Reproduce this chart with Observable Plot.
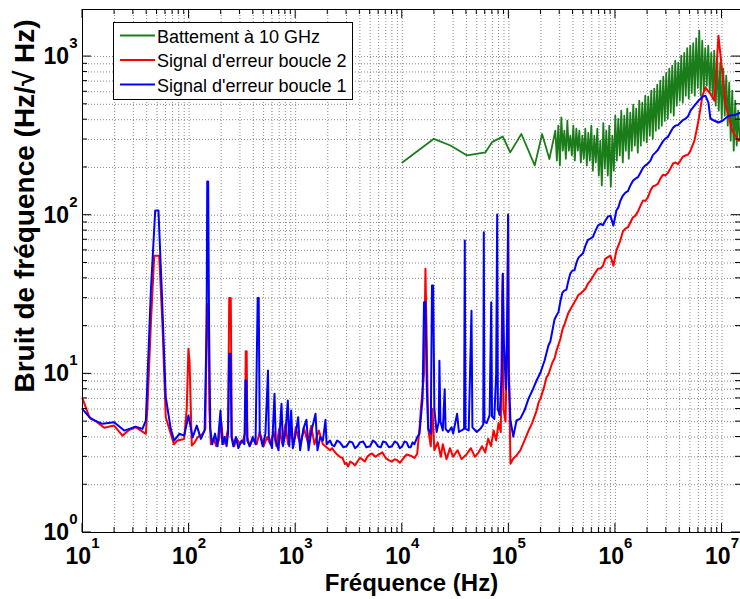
<!DOCTYPE html>
<html><head><meta charset="utf-8">
<script src="https://cdn.jsdelivr.net/npm/d3@7"></script>
<script src="https://cdn.jsdelivr.net/npm/@observablehq/plot@0.6"></script>
<style>body{margin:0;background:#fff;} #chart{width:740px;height:599px;}</style>
</head><body><div id="chart"></div>
<script>
// ---------- data (frequency in Hz, noise in Hz/sqrt(Hz)) ----------
const seriesNames = ["Battement à 10 GHz", "Signal d'erreur boucle 2", "Signal d'erreur boucle 1"];
const seriesColors = ["#1a7d1a", "#ff0000", "#0000ff"];

const greenFreq = [10000,19800,28300,40600,60300,70000,87700,103000,131000,175000,205000,240000,
 273000,282000,291300,300900,310800,321000,331600,342500,353700,365400,377400,389800,402600,415900,429500,443700,
 458300,473300,488900,505000,521600,538800,556500,574800,593700,613300,633400,654300,675800,698000,721000,744700,
 769200,794500,820700,847700,875600,904400,934200,964900,996700,1029500,1063300,1098300,1134500,1171800,1210400,1250200,
 1291400,1333900,1377700,1423100,1469900,1518300,1568300,1619900,1673200,1728300,1785200,1843900,1904600,1967300,
 2032100,2099000,2168100,2239400,2313100,2389300,2467900,2549100,2633000,2719700,2809200,2901700,2997200,3095800,
 3197700,3303000,3411700,3524000,3640000,3759800,3883600,4011400,4143400,4279800,4420700,4566200,4716500,4871700,
 5032100,5197700,5368800,5545500,5728000,5916600,6111300,6312500,6520200,6734800,6956500,7185500,7422000,7666300,
 7918600,8179200,8448400,8726500,9013700,9310400,9616900,9933400,10260000,10598000,10947000,11307000,11679000,12063000,
 12460000,12870000,13294000,13731000,14183000,14650000];
const greenVal = [215,303,275,238,249,290,313,249,325,206,325,226,
 341,221,367,206,414,255,341,227,394,255,317,238,367,221,351,255,
 341,215,317,227,351,206,330,221,367,191,317,215,351,178,295,154,
 380,197,341,178,367,151,317,191,424,221,405,238,456,215,424,255,
 470,227,443,255,498,275,470,248,527,275,512,295,567,288,
 558,317,610,303,628,341,666,351,705,367,747,394,790,405,
 840,443,877,424,942,491,915,527,1014,512,1055,567,1130,544,
 1172,590,1215,567,1300,636,1456,567,1259,610,1130,656,1172,590,
 1055,544,1089,491,965,456,915,405,840,424,758,367,685,295,
 610,255,527,275,456,295];

const redFreq = [10,11.6,13.5,16,19.8,23.7,27,31.6,35,39.3,40.7,43.8,47.1,52.4,56.2,60.4,67.3,72,77.8,89.9,95,98.6,101,106,113,120,134,142,147,151,155,160,170,180,190,200,210,220,232,238,246,252,265,280,300,320,335,340,347,352,370,400,430,460,500,540,580,620,660,700,750,800,850,900,950,1000,1100,1200,1300,1400,1500,1650,1800,1900,2100,2300,2600,2900,3100,3400,3800,4200,4700,5200,6000,7000,8000,9000,10500,12000,13800,14500,15000,16000,16500,17000,17500,18500,19200,20000,21500,23000,24000,26000,28000,30000,33000,36000,40000,44000,48000,52000,56000,60000,64000,68000,72000,76000,80000,84000,86500,87700,89000,93000,97000,98400,99500,103500,110000,118000,128000,140000,153000,166000,182000,198000,216000,235000,256000,280000,305000,332000,362000,395000,431000,470000,523000,582000,649000,723000,805000,897000,957000,1020000,1110000,1240000,1380000,1540000,1720000,1910000,2130000,2370000,2640000,2940000,3280000,3660000,4070000,4540000,5060000,5510000,6010000,6550000,6980000,7780000,8490000,9250000,10800000,12500000,14300000];
const redVal = [7.0,5.33,5.0,4.57,4.72,4.08,4.4,4.61,4.4,4.19,6.2,20.7,55.6,55.6,20.7,5.33,4.19,3.6,3.8,3.89,6.0,14.4,12,3.53,3.7,3.98,4.19,4.5,27.6,27.6,6,3.6,3.9,3.5,3.8,5.0,3.6,3.8,4.5,30.1,30.1,4.0,3.5,3.9,3.6,3.8,4.2,13.9,13.9,4.0,3.5,3.9,3.6,4.3,3.5,4.0,3.6,4.3,3.5,4.5,3.6,4.8,3.6,4.5,3.5,4.6,3.6,4.5,3.7,4.7,3.6,4.4,3.6,3.5,3.3,3.25,3.0,2.7,2.6,2.75,2.8,2.9,3.0,3.15,3.1,2.95,2.8,2.85,3.0,3.05,3.13,4.5,6.2,10,45.9,15,4.5,3.5,6,3.3,3.7,3.0,3.6,2.9,3.4,3.0,3.3,2.9,3.1,3.4,3.0,3.2,3.5,3.2,3.9,3.5,4.4,3.8,4.9,4.3,30,42.7,6,5.0,20,100,15,2.71,2.93,3.06,3.29,3.8,4.39,4.93,5.87,6.98,8.43,9.9,11.8,14.0,16.7,20.4,24.3,26.9,29.8,32.0,34.4,38.7,43.5,46.1,53.3,55.6,48,59.8,69.2,82.3,90,99.4,115,123,143,154,170,178,197,215,221,238,255,295,394,567,640,581,527,1355,503,341,295];
// additional readings of the red noise texture
const redNoiseFreq = [2200,2450,2750,3000,3250,3600,4000,4450,4950,5600,6500,7500,8500,9500,11000,13000,
 190000,225000,268000,318000,378000,450000,552000,685000,763000,1175000,1310000,1460000,1630000,1815000,2020000,2250000,2500000,2790000,3110000,3470000,3860000,4300000,4800000];
const redNoiseVal = [3.4,3.1,2.95,2.75,2.8,2.65,2.95,2.8,3.1,3.0,3.2,2.85,2.9,2.75,3.1,2.95,
 6.6,9.5,12.5,19.0,25.5,31.5,37.0,46.0,48.0,79,84,97,106,124,130,152,158,180,185,212,210,234,241];

const blueFreq = [10,12,15.4,19.8,24.6,31.6,36.5,39.3,43.8,48.1,51.6,55.4,60.4,67.3,72.4,81,90,98.6,108,118,129,140,146,148,151,154,158,165,175,185,197,205,215,225,232,238,245,250,260,275,290,310,330,338,345,352,370,395,420,440,450,460,490,520,550,560,600,633,650,690,736,760,800,844,870,907,940,1000,1055,1100,1180,1262,1320,1400,1535,1600,1700,1800,1904,1950,2100,2300,2600,3000,3400,3800,4300,5000,5600,6300,7000,8000,9000,10000,11000,12000,13000,13800,14500,15500,16000,16500,17000,17500,18500,19000,19500,20000,21000,22000,22300,22800,24000,25000,25500,27000,29000,30000,32700,34000,36000,38000,38600,39200,42000,44600,45500,50000,54000,57500,58200,59000,62000,66000,68300,69500,73000,76000,77700,78800,82000,86000,87700,90000,94000,97000,98400,99500,103500,110000,118000,128000,140000,153000,166000,182000,198000,216000,235000,256000,280000,305000,332000,362000,395000,431000,470000,523000,582000,649000,723000,805000,897000,957000,1020000,1110000,1240000,1380000,1540000,1720000,1910000,2130000,2370000,2640000,2940000,3280000,3660000,4070000,4540000,5060000,5510000,6010000,6550000,6980000,7450000,7780000,8490000,9250000,10100000,11000000,11700000,13400000,14900000];
const blueVal = [6.0,5.2,4.84,4.95,4.39,4.65,4.5,5.08,33.5,107,107,33.5,7.12,4.5,3.8,4.19,4.08,5.46,3.98,4.72,3.89,4.4,20,163,163,20,4.5,3.6,4.2,3.5,5.87,3.6,4.0,3.5,4.2,13.4,13.4,4.0,3.5,4.0,3.4,3.8,3.6,9.08,9.08,3.8,3.5,4.0,3.6,30.1,30.1,4.2,3.5,4.2,10.5,4.0,3.4,7.48,3.8,3.3,6.47,3.5,4.2,6.79,3.5,5.87,3.4,4.2,5.33,3.3,4.5,5.13,3.3,4.3,5.6,3.3,4.0,3.8,5.13,3.6,3.8,3.5,3.7,3.5,3.7,3.5,3.75,3.5,3.7,3.45,3.7,3.5,3.65,3.5,3.7,3.45,3.6,3.98,4.2,7,28.3,28.3,8,4.5,4.2,36,36,6,4.3,5,12.1,5,4.4,8.0,4.5,4.3,4.6,4.2,5.6,4.3,4.4,4.5,69.2,4.5,4.4,25,4.6,4.3,4.5,4.8,78,5,4.9,5.5,28.3,5.4,5.2,10,101,6,5.5,10,42.7,15,8,30,101,10,5.08,4.02,5.08,5.22,5.87,6.98,7.85,9.08,10.2,12.1,15.1,18.7,23.3,28.9,33.5,38.7,44.8,50.3,55.6,64.3,71.2,79.6,88.1,92.5,99.4,86,107,123,139,154,170,186,206,221,248,275,304,333,367,384,406,456,491,527,558,567,512,406,394,384,394,413,424,430,443];
// additional readings of the blue noise texture
const blueNoiseFreq = [2200,2450,2800,3200,3600,4000,4600,5300,5900,6600,7500,8500,9500,10500,11500,12500,
 245000,268000,292000,318000,347000,378000,413000,450000,496000,552000,615000,685000,763000,850000,1065000,1175000,1310000,1460000,1630000,1815000,2020000,2250000,2500000,2790000,3110000,3470000,3860000,4300000,4800000];
const blueNoiseVal = [3.55,3.8,3.45,3.75,3.4,3.7,3.45,3.8,3.5,3.75,3.45,3.75,3.4,3.75,3.45,3.7,
 16.0,22.0,24.5,32.5,34.0,43.0,45.0,54.0,57.5,70.0,73.0,86.0,86.5,98.0,112,133,142,165,174,199,212,240,258,292,312,356,370,398,420];

// axis tick values
const xTickValues = [1e1,1e2,1e3,1e4,1e5,1e6,1e7];
const yTickValues = [1e0,1e1,1e2,1e3];
const xDomain = [10, 1.49e7];
const yDomain = [1, 1980];
const xLabel = "Fréquence (Hz)";
const yLabel = "Bruit de fréquence (Hz/√ Hz)";

// ---------- build tables ----------
const toRows = (fs, vs, s) => fs.map((f, i) => ({f, v: vs[i], s}));
const byFreq = rows => rows.sort((a, b) => a.f - b.f);
const green = toRows(greenFreq, greenVal, seriesNames[0]);
const red = byFreq([...toRows(redFreq, redVal, seriesNames[1]), ...toRows(redNoiseFreq, redNoiseVal, seriesNames[1])]);
const blue = byFreq([...toRows(blueFreq, blueVal, seriesNames[2]), ...toRows(blueNoiseFreq, blueNoiseVal, seriesNames[2])]);

const minorOf = (majors, max) => majors.flatMap(m => [1,2,3,4,5,6,7,8,9].map(k => k * m)).filter(v => v <= max);
const xGrid = minorOf(xTickValues, xDomain[1]);
const yGrid = minorOf(yTickValues, yDomain[1]);

const W = 740, H = 599, mL = 82, mR = 0, mT = 9, mB = 67;
const font = "'Liberation Sans', Arial, Helvetica, sans-serif";
const gridStyle = {stroke: "#8a8a8a", strokeOpacity: 1, strokeWidth: 1, strokeDasharray: "1,2"};

const plot = Plot.plot({
  width: W, height: H,
  marginLeft: mL, marginRight: mR, marginTop: mT, marginBottom: mB,
  style: {fontFamily: font, background: "white", overflow: "visible"},
  x: {type: "log", domain: xDomain},
  y: {type: "log", domain: yDomain},
  marks: [
    Plot.gridX(xGrid, gridStyle),
    Plot.gridY(yGrid, gridStyle),
    Plot.line(green, {x: "f", y: "v", stroke: seriesColors[0], strokeWidth: 1.8}),
    Plot.line(red, {x: "f", y: "v", stroke: seriesColors[1], strokeWidth: 2}),
    Plot.line(blue, {x: "f", y: "v", stroke: seriesColors[2], strokeWidth: 2}),
    Plot.axisX(xTickValues, {anchor: "bottom", tickSize: 0, tickPadding: 15, fontSize: 23, fontWeight: "bold", fill: "black",
      tickFormat: d => String(Math.round(Math.log10(d))), label: null}),
    Plot.axisY(yTickValues, {anchor: "left", tickSize: 0, tickPadding: 5, fontSize: 23, fontWeight: "bold", fill: "black",
      tickFormat: d => String(Math.round(Math.log10(d))), label: null}),
    Plot.text([xLabel], {text: d => d, frameAnchor: "bottom", textAnchor: "middle", dy: 58, lineAnchor: "bottom", fontSize: 24, fontWeight: "bold", fill: "black"}),
    Plot.text([yLabel], {text: d => d, frameAnchor: "left", textAnchor: "middle", rotate: -90, dx: -49, dy: -65, lineAnchor: "bottom", fontSize: 28, fontWeight: "bold", fill: "black"}),
    Plot.frame({stroke: "black", strokeWidth: 1})
  ]
});

const svgSel = d3.select(plot);
// exponent superscripts
svgSel.selectAll('g[aria-label="x-axis tick label"] text, g[aria-label="y-axis tick label"] text').each(function() {
  const t = d3.select(this);
  const n = t.text();
  t.text("10");
  t.append("tspan").attr("dy", -16).attr("font-size", 15).text(n);
});

// inward ticks on all four sides, placed through the plot's scales
const sx = plot.scale("x"), sy = plot.scale("y");
const fTop = mT, fBottom = H - mB, fLeft = mL, fRight = W - mR;
const tg = svgSel.append("g").attr("stroke", "black").attr("stroke-width", 1);
xGrid.forEach(v => {
  const X = sx.apply(v), len = xTickValues.includes(v) ? 9 : 5;
  tg.append("line").attr("x1", X).attr("x2", X).attr("y1", fBottom).attr("y2", fBottom - len);
  tg.append("line").attr("x1", X).attr("x2", X).attr("y1", fTop).attr("y2", fTop + len);
});
yGrid.forEach(v => {
  const Y = sy.apply(v), len = yTickValues.includes(v) ? 9 : 5;
  tg.append("line").attr("x1", fLeft).attr("x2", fLeft + len).attr("y1", Y).attr("y2", Y);
  tg.append("line").attr("x1", fRight).attr("x2", fRight - len).attr("y1", Y).attr("y2", Y);
});

// legend box
const lg = svgSel.append("g").attr("font-family", font).attr("font-size", 18).attr("text-anchor", "start");
lg.append("rect").attr("x", 113.5).attr("y", 22.5).attr("width", 239).attr("height", 77)
  .attr("fill", "white").attr("stroke", "black").attr("stroke-width", 1);
seriesNames.forEach((name, i) => {
  const cy = 35.5 + i * 24.5;
  lg.append("line").attr("x1", 120).attr("x2", 155).attr("y1", cy).attr("y2", cy)
    .attr("stroke", seriesColors[i]).attr("stroke-width", 1.8);
  lg.append("text").attr("x", 157).attr("y", cy + 7).attr("fill", "black").attr("text-anchor", "start").text(name);
});

document.getElementById("chart").appendChild(plot);
</script>
</body></html>
